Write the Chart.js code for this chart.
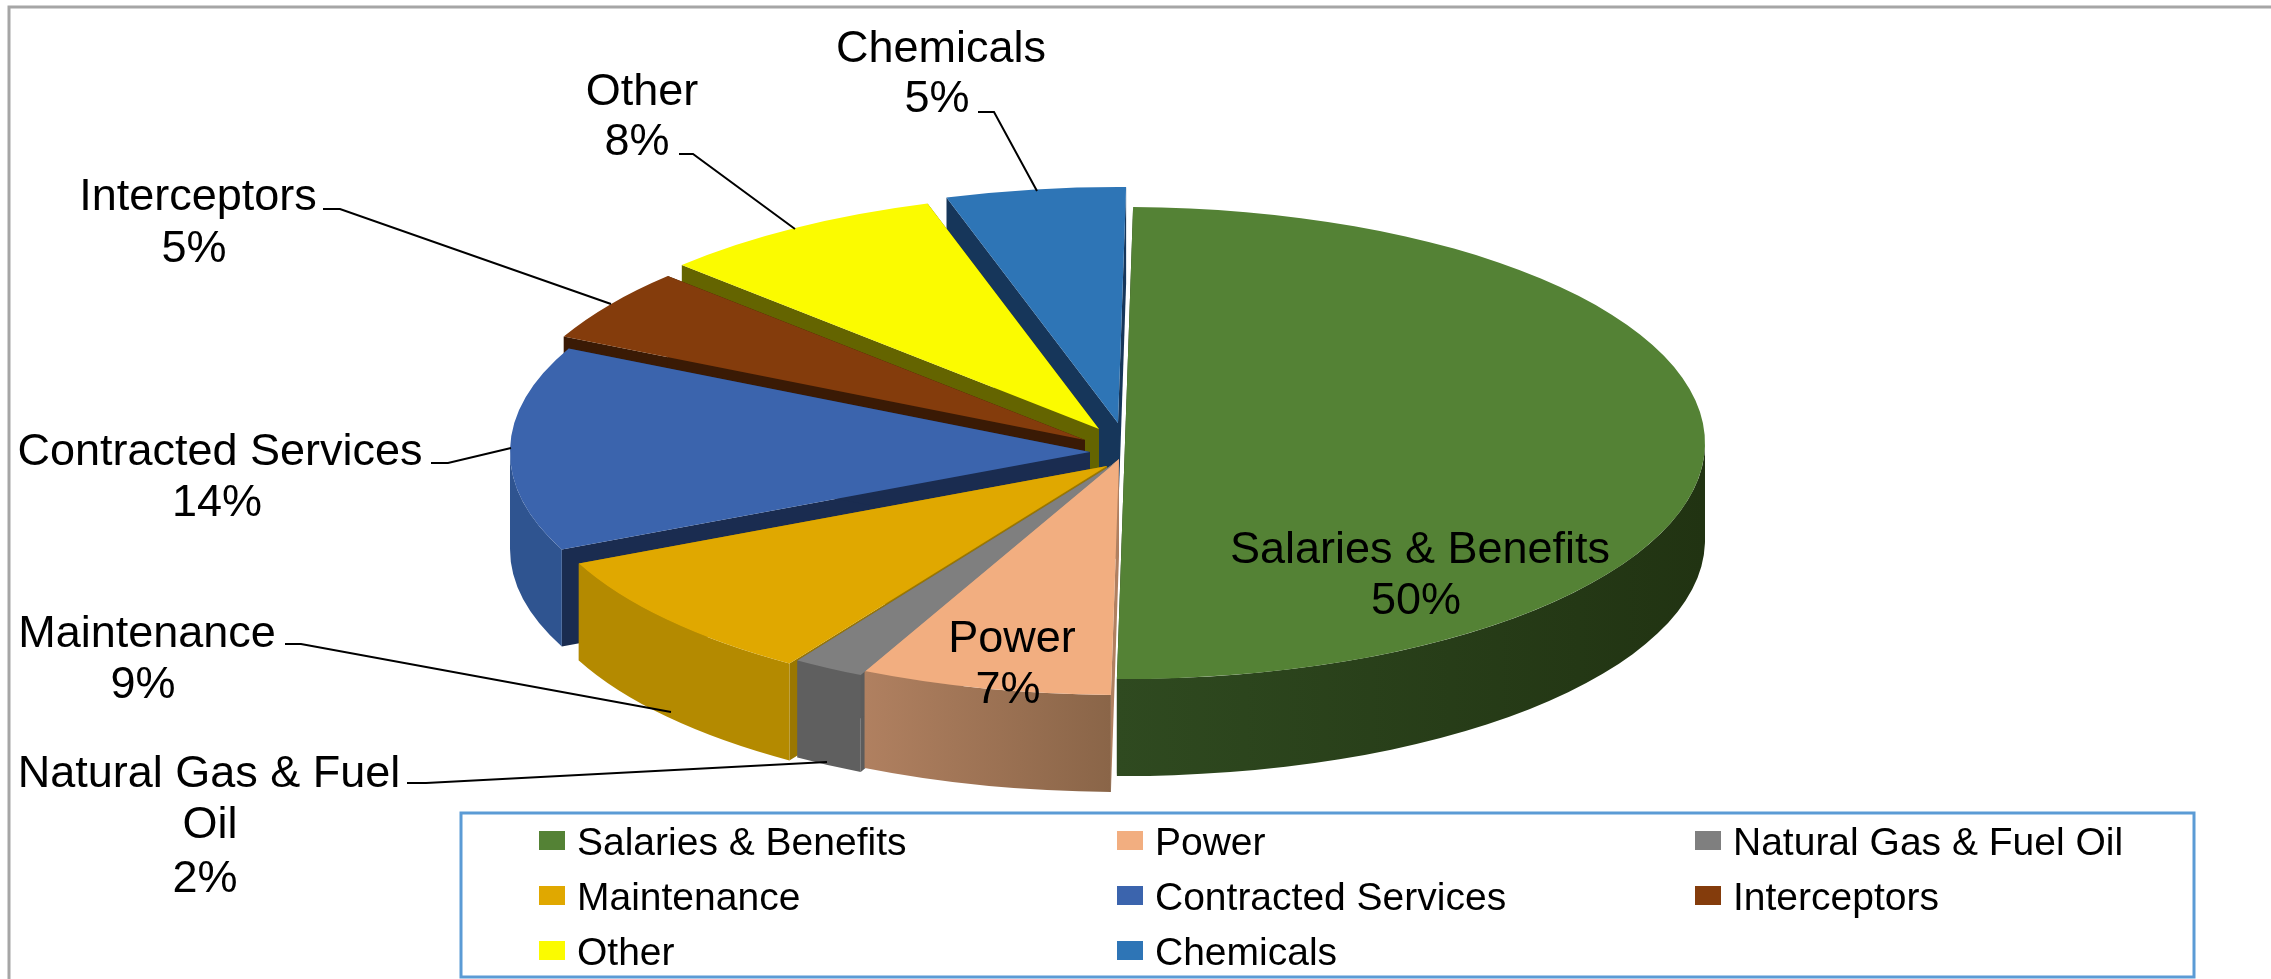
<!DOCTYPE html>
<html>
<head>
<meta charset="utf-8">
<title>Cost breakdown</title>
<script src="https://cdn.jsdelivr.net/npm/chart.js@4"></script>
<style>
html, body { margin: 0; padding: 0; background: #fff; overflow: hidden; }
canvas { display: block; }
</style>
</head>
<body>
<canvas id="myChart" width="2271" height="979"></canvas>
<script>
let categories = ['Salaries & Benefits', 'Power', 'Natural Gas & Fuel Oil', 'Maintenance', 'Contracted Services', 'Interceptors', 'Other', 'Chemicals'];
let percents = [50, 7, 2, 9, 14, 5, 8, 5];

let topColors = ['#548235', '#f2ae80', '#7f7f7f', '#e0a800', '#3b64ad', '#843c0c', '#fbfb00', '#2e75b6'];
let cutColors = ['#22350f', '#b08060', '#5c5c5c', '#9a7700', '#1a2c50', '#3a1a05', '#646400', '#16365a'];
let wallLeft = ['#2f4a20', '#b08060', '#5f5f5f', '#b48a00', '#2f5490', '#5a2a08', '#9a9a00', '#1f5588'];
let wallRight = ['#213312', '#8a6548', '#5f5f5f', '#b48a00', '#2f5490', '#5a2a08', '#9a9a00', '#1f5588'];

// how far each slice is pulled out of the pie
let pullX = [20, 14, 10, 2, -15, -20, -6, 13];
let pullY = [0, 16, 20, 23, 9, -3, -14, -20];
// back to front
let wallOrder = [7, 6, 5, 4, 0, 3, 2, 1];

let pieX = 1105, pieY = 443, radX = 580, radY = 236, depth = 97;

// label text lines, anchor and leader lines
let labelLines = [['Salaries & Benefits', '50%'], ['Power', '7%'], ['Natural Gas & Fuel', 'Oil', '2%'], ['Maintenance', '9%'], ['Contracted Services', '14%'], ['Interceptors', '5%'], ['Other', '8%'], ['Chemicals', '5%']];
let labelCenterX = [[1420, 1416], [1012, 1008], [209, 210, 205], [147, 143], [220, 217], [198, 194], [642, 637], [941, 937]];
let labelBase = [[563, 614], [652, 703], [787, 838, 892], [647, 698], [465, 516], [210, 262], [105, 155], [62, 112]];
let leaders = [
  [[407, 783], [426, 783], [827, 762]],
  [[285, 644], [301, 644], [671, 712]],
  [[431, 463], [448, 463], [511, 448]],
  [[323, 209], [340, 209], [611, 304]],
  [[679, 154], [693, 154], [795, 229]],
  [[978, 112], [994, 112], [1037, 191]]
];

let legendColX = [539, 1117, 1695];
let legendRowY = [831, 886, 941];

function sliceWalls(ctx, arc, i) {
  let cx = pieX + pullX[i], cy = pieY + pullY[i];
  let a0 = arc.startAngle, a1 = arc.endAngle;
  // the two cut faces
  [a0, a1].forEach(function (a) {
    let ex = cx + Math.cos(a) * radX, ey = cy + Math.sin(a) * radY;
    ctx.beginPath();
    ctx.moveTo(cx, cy);
    ctx.lineTo(ex, ey);
    ctx.lineTo(ex, ey + depth);
    ctx.lineTo(cx, cy + depth);
    ctx.closePath();
    ctx.fillStyle = cutColors[i];
    ctx.fill();
  });
  // outer rim, only the part that faces the viewer
  let from = Math.max(a0, 0), to = Math.min(a1, Math.PI);
  if (to <= from) return;
  let grad = ctx.createLinearGradient(cx + Math.cos(to) * radX, 0, cx + Math.cos(from) * radX, 0);
  grad.addColorStop(0, wallLeft[i]);
  grad.addColorStop(1, wallRight[i]);
  ctx.beginPath();
  ctx.ellipse(cx, cy, radX, radY, 0, from, to);
  ctx.ellipse(cx, cy + depth, radX, radY, 0, to, from, true);
  ctx.closePath();
  ctx.fillStyle = grad;
  ctx.fill();
}

let pie3d = {
  id: 'pie3d',
  beforeDatasetDraw(chart, args) {
    let ctx = chart.ctx;
    let arcs = args.meta.data;
    wallOrder.forEach(function (i) {
      sliceWalls(ctx, arcs[i], i);
    });
    arcs.forEach(function (arc, i) {
      ctx.save();
      ctx.translate(pieX + pullX[i], pieY + pullY[i]);
      ctx.scale(radX / arc.outerRadius, radY / arc.outerRadius);
      ctx.translate(-arc.x, -arc.y);
      arc.draw(ctx);
      ctx.restore();
    });
    return false;
  },
  afterDraw(chart) {
    let ctx = chart.ctx;
    ctx.save();
    // frame, cropped on the right and at the bottom
    ctx.strokeStyle = '#a6a6a6';
    ctx.lineWidth = 3;
    ctx.beginPath();
    ctx.moveTo(9, 979);
    ctx.lineTo(9, 7);
    ctx.lineTo(2271, 7);
    ctx.stroke();
    // leader lines
    ctx.strokeStyle = '#000';
    ctx.lineWidth = 2;
    leaders.forEach(function (pts) {
      ctx.beginPath();
      pts.forEach(function (p, k) {
        if (k === 0) ctx.moveTo(p[0], p[1]); else ctx.lineTo(p[0], p[1]);
      });
      ctx.stroke();
    });
    // slice labels
    ctx.fillStyle = '#000';
    ctx.font = '45px "Liberation Sans"';
    ctx.textAlign = 'center';
    ctx.textBaseline = 'alphabetic';
    labelLines.forEach(function (lines, i) {
      lines.forEach(function (line, k) {
        ctx.fillText(line, labelCenterX[i][k], labelBase[i][k]);
      });
    });
    // legend box
    ctx.strokeStyle = '#5b9bd5';
    ctx.lineWidth = 3;
    ctx.strokeRect(461, 813, 1733, 164);
    ctx.font = '39px "Liberation Sans"';
    ctx.textAlign = 'left';
    categories.forEach(function (name, i) {
      let col = i % 3, row = Math.floor(i / 3);
      ctx.fillStyle = topColors[i];
      ctx.fillRect(legendColX[col], legendRowY[row], 26, 19);
      ctx.fillStyle = '#000';
      ctx.fillText(name, legendColX[col] + 38, legendRowY[row] + 24);
    });
    ctx.restore();
  }
};

new Chart(document.getElementById('myChart'), {
  type: 'pie',
  data: {
    labels: categories,
    datasets: [{
      data: percents,
      backgroundColor: topColors,
      borderWidth: 0
    }]
  },
  options: {
    responsive: false,
    animation: false,
    rotation: 0.8,
    events: [],
    plugins: {
      legend: { display: false },
      tooltip: { enabled: false }
    }
  },
  plugins: [pie3d]
});
</script>
</body>
</html>
